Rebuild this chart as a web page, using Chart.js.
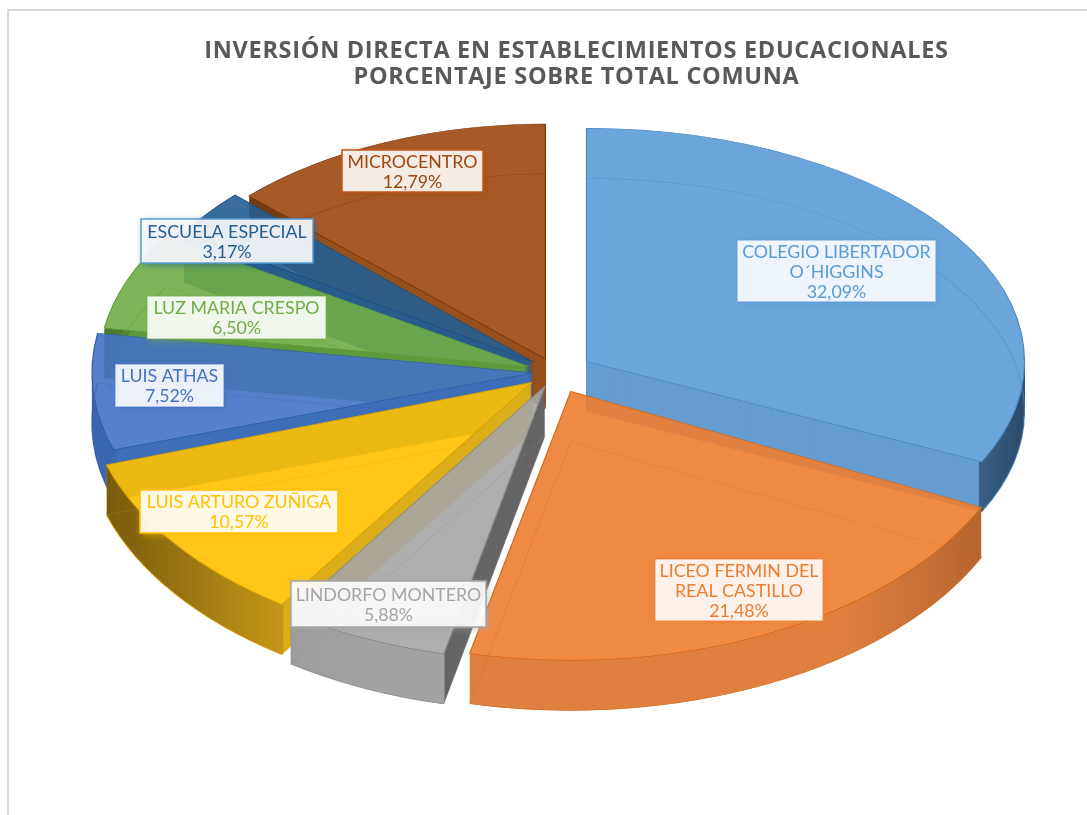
<!DOCTYPE html>
<html><head><meta charset="utf-8">
<style>html,body{margin:0;padding:0;background:#fff}#w{width:1087px;height:815px;position:relative}</style>
<script src="https://cdn.jsdelivr.net/npm/chart.js@4"></script>
</head><body><div id="w"><canvas id="c" width="1087" height="815"></canvas></div>
<script>
const categories = ["COLEGIO LIBERTADOR O´HIGGINS","LICEO FERMIN DEL REAL CASTILLO","LINDORFO MONTERO","LUIS ARTURO ZUÑIGA","LUIS ATHAS","LUZ MARIA CRESPO","ESCUELA ESPECIAL","MICROCENTRO"];
const values = [32.09,21.48,5.88,10.57,7.52,6.50,3.17,12.79];
const titleLines = ["INVERSIÓN DIRECTA EN ESTABLECIMIENTOS EDUCACIONALES","PORCENTAJE SOBRE TOTAL COMUNA"];
const labelLines = [["COLEGIO LIBERTADOR","O´HIGGINS"],["LICEO FERMIN DEL","REAL CASTILLO"],["LINDORFO MONTERO"],["LUIS ARTURO ZUÑIGA"],["LUIS ATHAS"],["LUZ MARIA CRESPO"],["ESCUELA ESPECIAL"],["MICROCENTRO"]];

// styling
const rgb = [[91,155,213],[237,125,49],[165,165,165],[255,192,0],[68,114,196],[112,173,71],[37,94,145],[158,72,14]];
const edge = ["#4a88c4","#cf6a1c","#8c8c8c","#d9a300","#2f5ea8","#5f9f3a","#1d4f7e","#7a3608"];
const cut  = ["#669dd2","#df7f3e","#666666","#dcae1a","#3f6fb8","#5e9a3c","#2a5d8c","#97501c"];
const rim  = ["#669dd2","#e08040","#a3a3a3","#e2b01a","#4a78c4","#6aa84b","#2f6a9c","#8c4a18"];
const rimDark = ["#2b4a6a","#a85c28","#8a8a8a","#6e530c","#3a66b0","#4a7a30","#1d4f7e","#5c2c08"];
const boxBorder = ["rgba(91,155,213,.6)","rgba(237,125,49,.55)","#a5a5a5","#ffc000","rgba(68,114,196,.5)","rgba(112,173,71,.5)","#5b9bd5","#c05a18"];
const explode = [0.085,0.08,0.055,0.065,0.05,0.065,0.065,0.06];
const radiusX = [438,455,455,447,441,430,415,412];
const radiusY = [233,269,275,268,250,241,241,235];
const drawOrder = [7,6,5,4,3,0,2,1];
const labelBoxes = [[737,240,199,62],[655,559,168,62],[291,581,195,46],[140,490,198,43],[115,364,109,43],[147,296,179,43],[141,219,172,44],[342,150,141,42]];
const CX=555, CY=372, DEPTH=50, ALPHA=0.9;

const fmt = v => v.toFixed(2).replace('.',',')+'%';
const rgba = (c,a)=>`rgba(${c[0]},${c[1]},${c[2]},${a})`;

function place(ctx,arc,i,d){
  const mid=(arc.startAngle+arc.endAngle)/2;
  const r=arc.outerRadius;
  ctx.translate(CX,CY+d);
  ctx.scale(radiusX[i]/r,radiusY[i]/r);
  ctx.translate(-arc.x,-arc.y);
  ctx.translate(Math.cos(mid)*explode[i]*r,Math.sin(mid)*explode[i]*r);
}
function slicePath(ctx,arc){
  ctx.moveTo(arc.x,arc.y);
  ctx.arc(arc.x,arc.y,arc.outerRadius,arc.startAngle,arc.endAngle);
  ctx.closePath();
}
const glassPie = {
  id:'glassPie',
  beforeDraw(chart){
    const ctx=chart.ctx;
    ctx.save();
    ctx.strokeStyle='#d9d9d9';ctx.lineWidth=2;
    ctx.beginPath();ctx.moveTo(8,815);ctx.lineTo(8,10);ctx.lineTo(1087,10);ctx.stroke();
    ctx.restore();
    ctx.letterSpacing='0.7px';   // widens the title, which is drawn next
  },
  beforeDatasetsDraw(chart){
    const ctx=chart.ctx, arcs=chart.getDatasetMeta(0).data;
    ctx.letterSpacing='0px';
    for(const i of drawOrder){
      const arc=arcs[i], base=arc.options;
      // side walls, outside the slice's own top
      ctx.save();
      ctx.beginPath();ctx.rect(0,0,1087,815);
      ctx.save();place(ctx,arc,i,0);slicePath(ctx,arc);ctx.restore();
      ctx.clip('evenodd');
      const o=Object.create(base);o.backgroundColor=cut[i];o.borderColor=cut[i];o.borderWidth=0;
      arc.options=o;
      for(let d=DEPTH;d>=1;d--){
        ctx.save();place(ctx,arc,i,d);arc.draw(ctx);ctx.restore();
      }
      arc.options=base;
      for(let d=DEPTH;d>=2;d--){
        ctx.save();place(ctx,arc,i,d);
        const g=ctx.createLinearGradient(arc.x-arc.outerRadius,0,arc.x+arc.outerRadius,0);
        g.addColorStop(0,rimDark[i]);g.addColorStop(.3,rim[i]);g.addColorStop(.8,rim[i]);g.addColorStop(1,rimDark[i]);
        ctx.strokeStyle=g;ctx.lineWidth=3;
        ctx.beginPath();ctx.arc(arc.x,arc.y,arc.outerRadius-1.5,arc.startAngle,arc.endAngle);ctx.stroke();
        ctx.restore();
      }
      ctx.restore();
      // bottom edge of wall
      ctx.save();place(ctx,arc,i,DEPTH);
      ctx.strokeStyle=edge[i];ctx.globalAlpha=.55;ctx.lineWidth=1;
      ctx.beginPath();ctx.arc(arc.x,arc.y,arc.outerRadius,arc.startAngle,arc.endAngle);ctx.stroke();
      ctx.restore();
      // translucent top
      ctx.save();place(ctx,arc,i,0);arc.draw(ctx);ctx.restore();
      // floor outline seen through the glass
      ctx.save();place(ctx,arc,i,DEPTH);
      ctx.strokeStyle=edge[i];ctx.globalAlpha=.3;ctx.lineWidth=1;
      ctx.beginPath();slicePath(ctx,arc);ctx.stroke();
      ctx.restore();
    }
    return false;
  },
  afterDraw(chart){
    const ctx=chart.ctx;
    categories.forEach((_,i)=>{
      const [x,y,w,h]=labelBoxes[i];
      ctx.save();
      ctx.shadowColor=rgba(rgb[i],.7);ctx.shadowBlur=7;ctx.shadowOffsetX=2;ctx.shadowOffsetY=2;
      ctx.fillStyle='rgba(255,255,255,.89)';ctx.fillRect(x,y,w,h);
      ctx.restore();
      ctx.save();
      ctx.strokeStyle=boxBorder[i];ctx.lineWidth=1.5;ctx.strokeRect(x,y,w,h);
      ctx.fillStyle=rgba(rgb[i],1);
      ctx.font='17.8px Lato';ctx.textAlign='center';ctx.textBaseline='middle';
      const lines=[...labelLines[i],fmt(values[i])];
      const lh=20, top=y+h/2+1-(lines.length-1)*lh/2;
      lines.forEach((t,k)=>ctx.fillText(t,x+w/2,top+k*lh));
      ctx.restore();
    });
  }
};
new Chart(document.getElementById('c'),{
  type:'pie',
  data:{labels:categories,datasets:[{data:values,
    backgroundColor:rgb.map(c=>rgba(c,ALPHA)),borderColor:edge,borderWidth:1}]},
  options:{responsive:false,animation:false,events:[],
    layout:{padding:{left:66,top:0}},
    plugins:{legend:{display:false},tooltip:{enabled:false},
      title:{display:true,text:titleLines,color:'#595959',align:'center',
        font:{family:'Open Sans',size:23.5,weight:'bold',lineHeight:1.12},padding:{top:38,bottom:10}}}},
  plugins:[glassPie]
});
</script></body></html>
